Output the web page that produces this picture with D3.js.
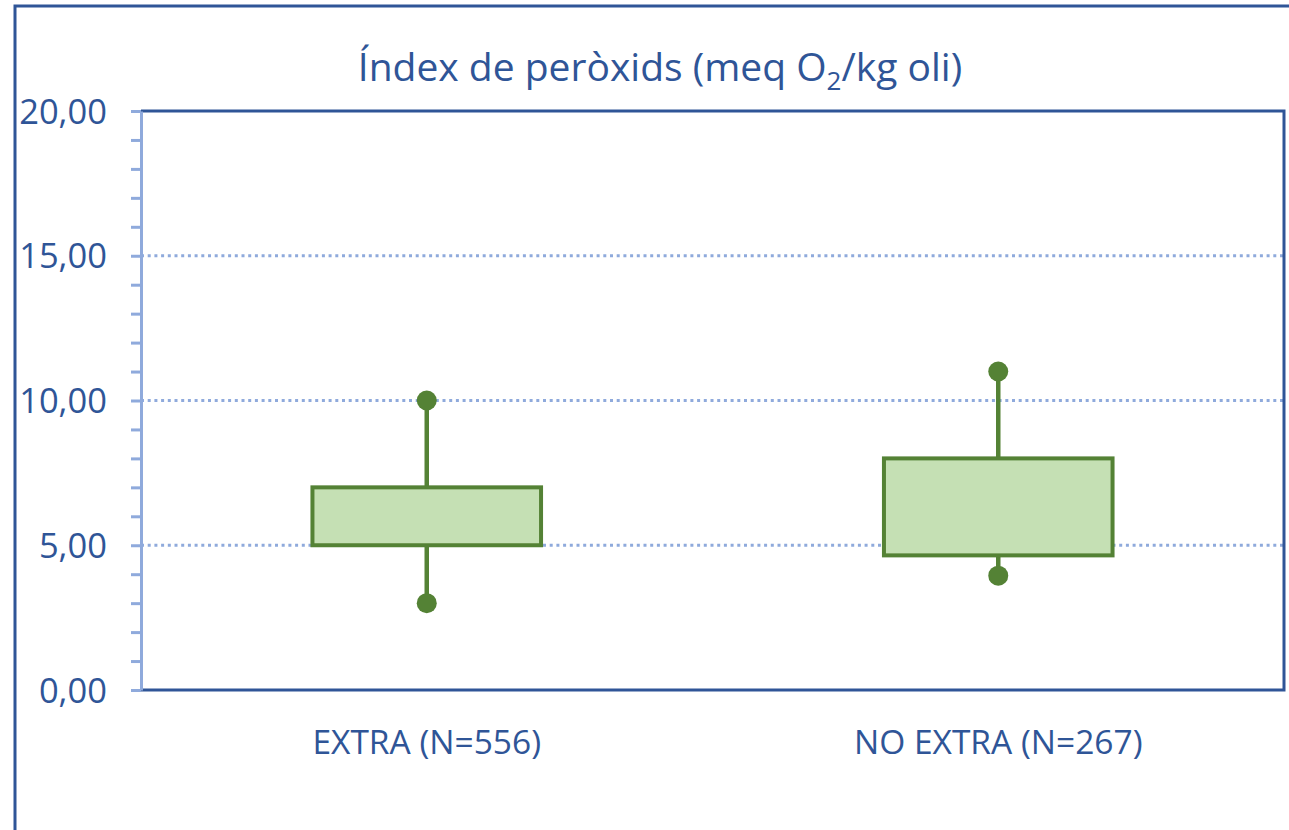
<!DOCTYPE html>
<head>
  <meta charset="utf-8">
  <script src="https://d3js.org/d3.v7.min.js"></script>
  <style>
    body { margin: 0; background: #fff; }
    * { font-family: "Open Sans", sans-serif; }
  </style>
</head>
<body>
  <svg width="1289" height="830"></svg>
  <script>
    // box plot values
    const categories = ["EXTRA (N=556)", "NO EXTRA (N=267)"];
    const minVals = [3.0, 3.95];
    const q1Vals = [5.0, 4.65];
    const q3Vals = [7.0, 8.0];
    const maxVals = [10.0, 11.0];
    const yTicks = [0, 5, 10, 15, 20];
    const gridVals = [5, 10, 15];

    const blue = "#2F5597", light = "#8FAADC";
    const green = "#548235", fill = "#C5E0B4";

    const svg = d3.select("svg");
    const m = { left: 141, right: 1284, top: 111, bottom: 690 };

    // outer frame (only top and left edges fall inside the picture)
    svg.append("rect")
      .attr("x", 15).attr("y", 6)
      .attr("width", 1300).attr("height", 900)
      .attr("fill", "none").attr("stroke", blue).attr("stroke-width", 3);

    const x = d3.scaleBand().domain(categories).range([m.left, m.right]);
    const y = d3.scaleLinear().domain([0, 20]).range([m.bottom, m.top]);

    // dotted gridlines
    svg.append("g").selectAll("line").data(gridVals).join("line")
      .attr("x1", m.left).attr("x2", m.right)
      .attr("y1", d => y(d)).attr("y2", d => y(d))
      .attr("stroke", light).attr("stroke-width", 3)
      .attr("stroke-dasharray", "3,3.7");

    // plot area border (top, right, bottom)
    svg.append("path")
      .attr("d", `M${m.left},${m.top}H${m.right}V${m.bottom}H${m.left}`)
      .attr("fill", "none").attr("stroke", blue).attr("stroke-width", 3);

    // y axis with minor ticks
    const yAxis = d3.axisLeft(y).ticks(20).tickSize(10).tickSizeOuter(0)
      .tickFormat(d => yTicks.includes(d) ? d3.format(".2f")(d).replace(".", ",") : "");
    const gy = svg.append("g").attr("transform", `translate(${m.left},0)`).call(yAxis);
    gy.select(".domain").attr("stroke", light).attr("stroke-width", 3);
    gy.selectAll(".tick line").attr("stroke", light).attr("stroke-width", 3);
    gy.selectAll(".tick text")
      .attr("x", -34).attr("dy", "0.35em")
      .attr("fill", blue).style("font-size", "34.5px");

    // x labels
    svg.append("g").selectAll("text").data(categories).join("text")
      .attr("x", d => x(d) + x.bandwidth() / 2).attr("y", 742)
      .attr("dy", "0.35em").attr("text-anchor", "middle")
      .attr("fill", blue).style("font-size", "33.5px")
      .text(d => d);

    // boxes
    const boxW = x.bandwidth() * 0.4;
    const g = svg.append("g").selectAll("g").data(categories).join("g");
    const cx = d => x(d) + x.bandwidth() / 2;

    g.append("line")
      .attr("x1", cx).attr("x2", cx)
      .attr("y1", (d, i) => y(maxVals[i])).attr("y2", (d, i) => y(minVals[i]))
      .attr("stroke", green).attr("stroke-width", 4.5);
    g.append("rect")
      .attr("x", d => cx(d) - boxW / 2).attr("width", boxW)
      .attr("y", (d, i) => y(q3Vals[i]))
      .attr("height", (d, i) => y(q1Vals[i]) - y(q3Vals[i]))
      .attr("fill", fill).attr("stroke", green).attr("stroke-width", 4);
    g.append("circle").attr("cx", cx).attr("cy", (d, i) => y(maxVals[i]))
      .attr("r", 10).attr("fill", green);
    g.append("circle").attr("cx", cx).attr("cy", (d, i) => y(minVals[i]))
      .attr("r", 10).attr("fill", green);

    // title with subscript
    const t = svg.append("text")
      .attr("x", 660).attr("y", 81).attr("text-anchor", "middle")
      .attr("fill", blue).style("font-size", "39px");
    t.append("tspan").text("Índex de peròxids (meq O");
    t.append("tspan").attr("dy", 9).style("font-size", "26px").text("2");
    t.append("tspan").attr("dy", -9).text("/kg oli)");
  </script>
</body>
